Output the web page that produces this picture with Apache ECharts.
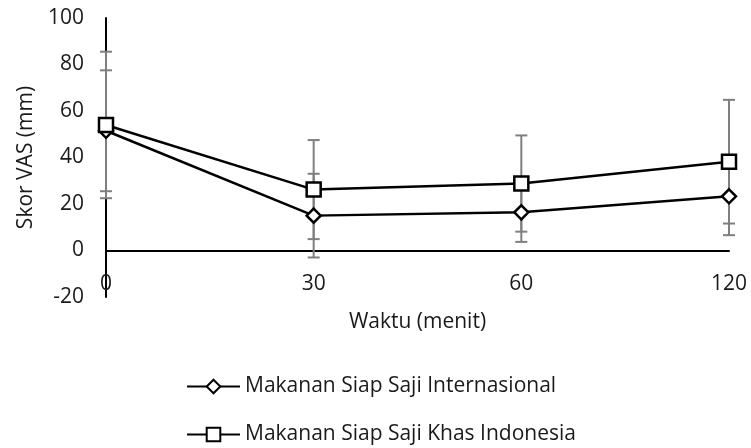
<!DOCTYPE html>
<html>
<head>
<meta charset="utf-8">
<script src="https://cdn.jsdelivr.net/npm/echarts@6/dist/echarts.min.js"></script>
<style>
  html, body { margin: 0; padding: 0; background: #fff; }
  #chart { width: 751px; height: 448px; }
</style>
</head>
<body>
<div id="chart"></div>
<script>
// Time points (minutes)
const times = ['0', '30', '60', '120'];

// Mean VAS score and standard deviation per group
const intlMean = [51.5, 15.0, 16.4, 23.3];
const intlSd   = [26.0, 18.0, 12.7, 16.7];
const indoMean = [54.0, 26.2, 28.8, 38.2];
const indoSd   = [31.5, 21.3, 20.7, 26.6];

const intlName = 'Makanan Siap Saji Internasional';
const indoName = 'Makanan Siap Saji Khas Indonesia';

const FONT = 'Open Sans';
const FS = 21;
const TEXT = '#1a1a1a';

function errData(mean, sd) {
  return mean.map((m, i) => [i, m - sd[i], m + sd[i]]);
}

// Vertical error bar with a short cap at each end
function renderErr(params, api) {
  const x = api.value(0);
  const lo = api.coord([x, api.value(1)]);
  const hi = api.coord([x, api.value(2)]);
  const half = 6;
  const style = { stroke: '#7f7f7f', lineWidth: 2, fill: null };
  return {
    type: 'group',
    children: [
      { type: 'line', shape: { x1: hi[0], y1: hi[1], x2: lo[0], y2: lo[1] }, style },
      { type: 'line', shape: { x1: hi[0] - half, y1: hi[1], x2: hi[0] + half, y2: hi[1] }, style },
      { type: 'line', shape: { x1: lo[0] - half, y1: lo[1], x2: lo[0] + half, y2: lo[1] }, style }
    ]
  };
}

const legendBase = {
  orient: 'vertical',
  left: 186,
  padding: 0,
  itemWidth: 53,
  itemHeight: 17,
  itemGap: 6,
  textStyle: { color: TEXT, fontSize: FS, fontFamily: FONT }
};

const chart = echarts.init(document.getElementById('chart'), null, { renderer: 'canvas' });

chart.setOption({
  animation: false,
  backgroundColor: '#fff',
  textStyle: { fontFamily: FONT },
  grid: { left: 106, right: 22, top: 18, bottom: 151, containLabel: false },
  xAxis: {
    type: 'category',
    data: times,
    boundaryGap: false,
    axisLine: { onZero: true, lineStyle: { color: '#000', width: 2 } },
    axisTick: { show: false },
    axisLabel: { color: TEXT, fontSize: FS, fontFamily: FONT, margin: -23 },
    splitLine: { show: false },
    name: 'Waktu (menit)',
    nameLocation: 'middle',
    nameGap: 15,
    nameTextStyle: { color: TEXT, fontSize: FS, fontFamily: FONT }
  },
  yAxis: {
    type: 'value',
    min: -20,
    max: 100,
    interval: 20,
    axisLine: { show: true, lineStyle: { color: '#000', width: 2 } },
    axisTick: { show: false },
    axisLabel: { color: TEXT, fontSize: FS, fontFamily: FONT, margin: 22 },
    splitLine: { show: false },
    name: 'Skor VAS (mm)',
    nameLocation: 'middle',
    nameGap: 69,
    nameTextStyle: { color: TEXT, fontSize: FS, fontFamily: FONT }
  },
  legend: [
    Object.assign({}, legendBase, { top: 376, data: [intlName] }),
    Object.assign({}, legendBase, { top: 424, data: [indoName] })
  ],
  series: [
    {
      type: 'custom',
      name: 'err-intl',
      renderItem: renderErr,
      data: errData(intlMean, intlSd),
      z: 2,
      silent: true
    },
    {
      type: 'custom',
      name: 'err-indo',
      renderItem: renderErr,
      data: errData(indoMean, indoSd),
      z: 2,
      silent: true
    },
    {
      type: 'line',
      name: intlName,
      data: intlMean,
      symbol: 'diamond',
      symbolSize: 14,
      z: 3,
      lineStyle: { color: '#000', width: 2.5 },
      itemStyle: { color: '#fff', borderColor: '#000', borderWidth: 2.5 }
    },
    {
      type: 'line',
      name: indoName,
      data: indoMean,
      symbol: 'rect',
      symbolSize: 14,
      z: 4,
      lineStyle: { color: '#000', width: 2.5 },
      itemStyle: { color: '#fff', borderColor: '#000', borderWidth: 2.5 }
    }
  ]
});
</script>
</body>
</html>
